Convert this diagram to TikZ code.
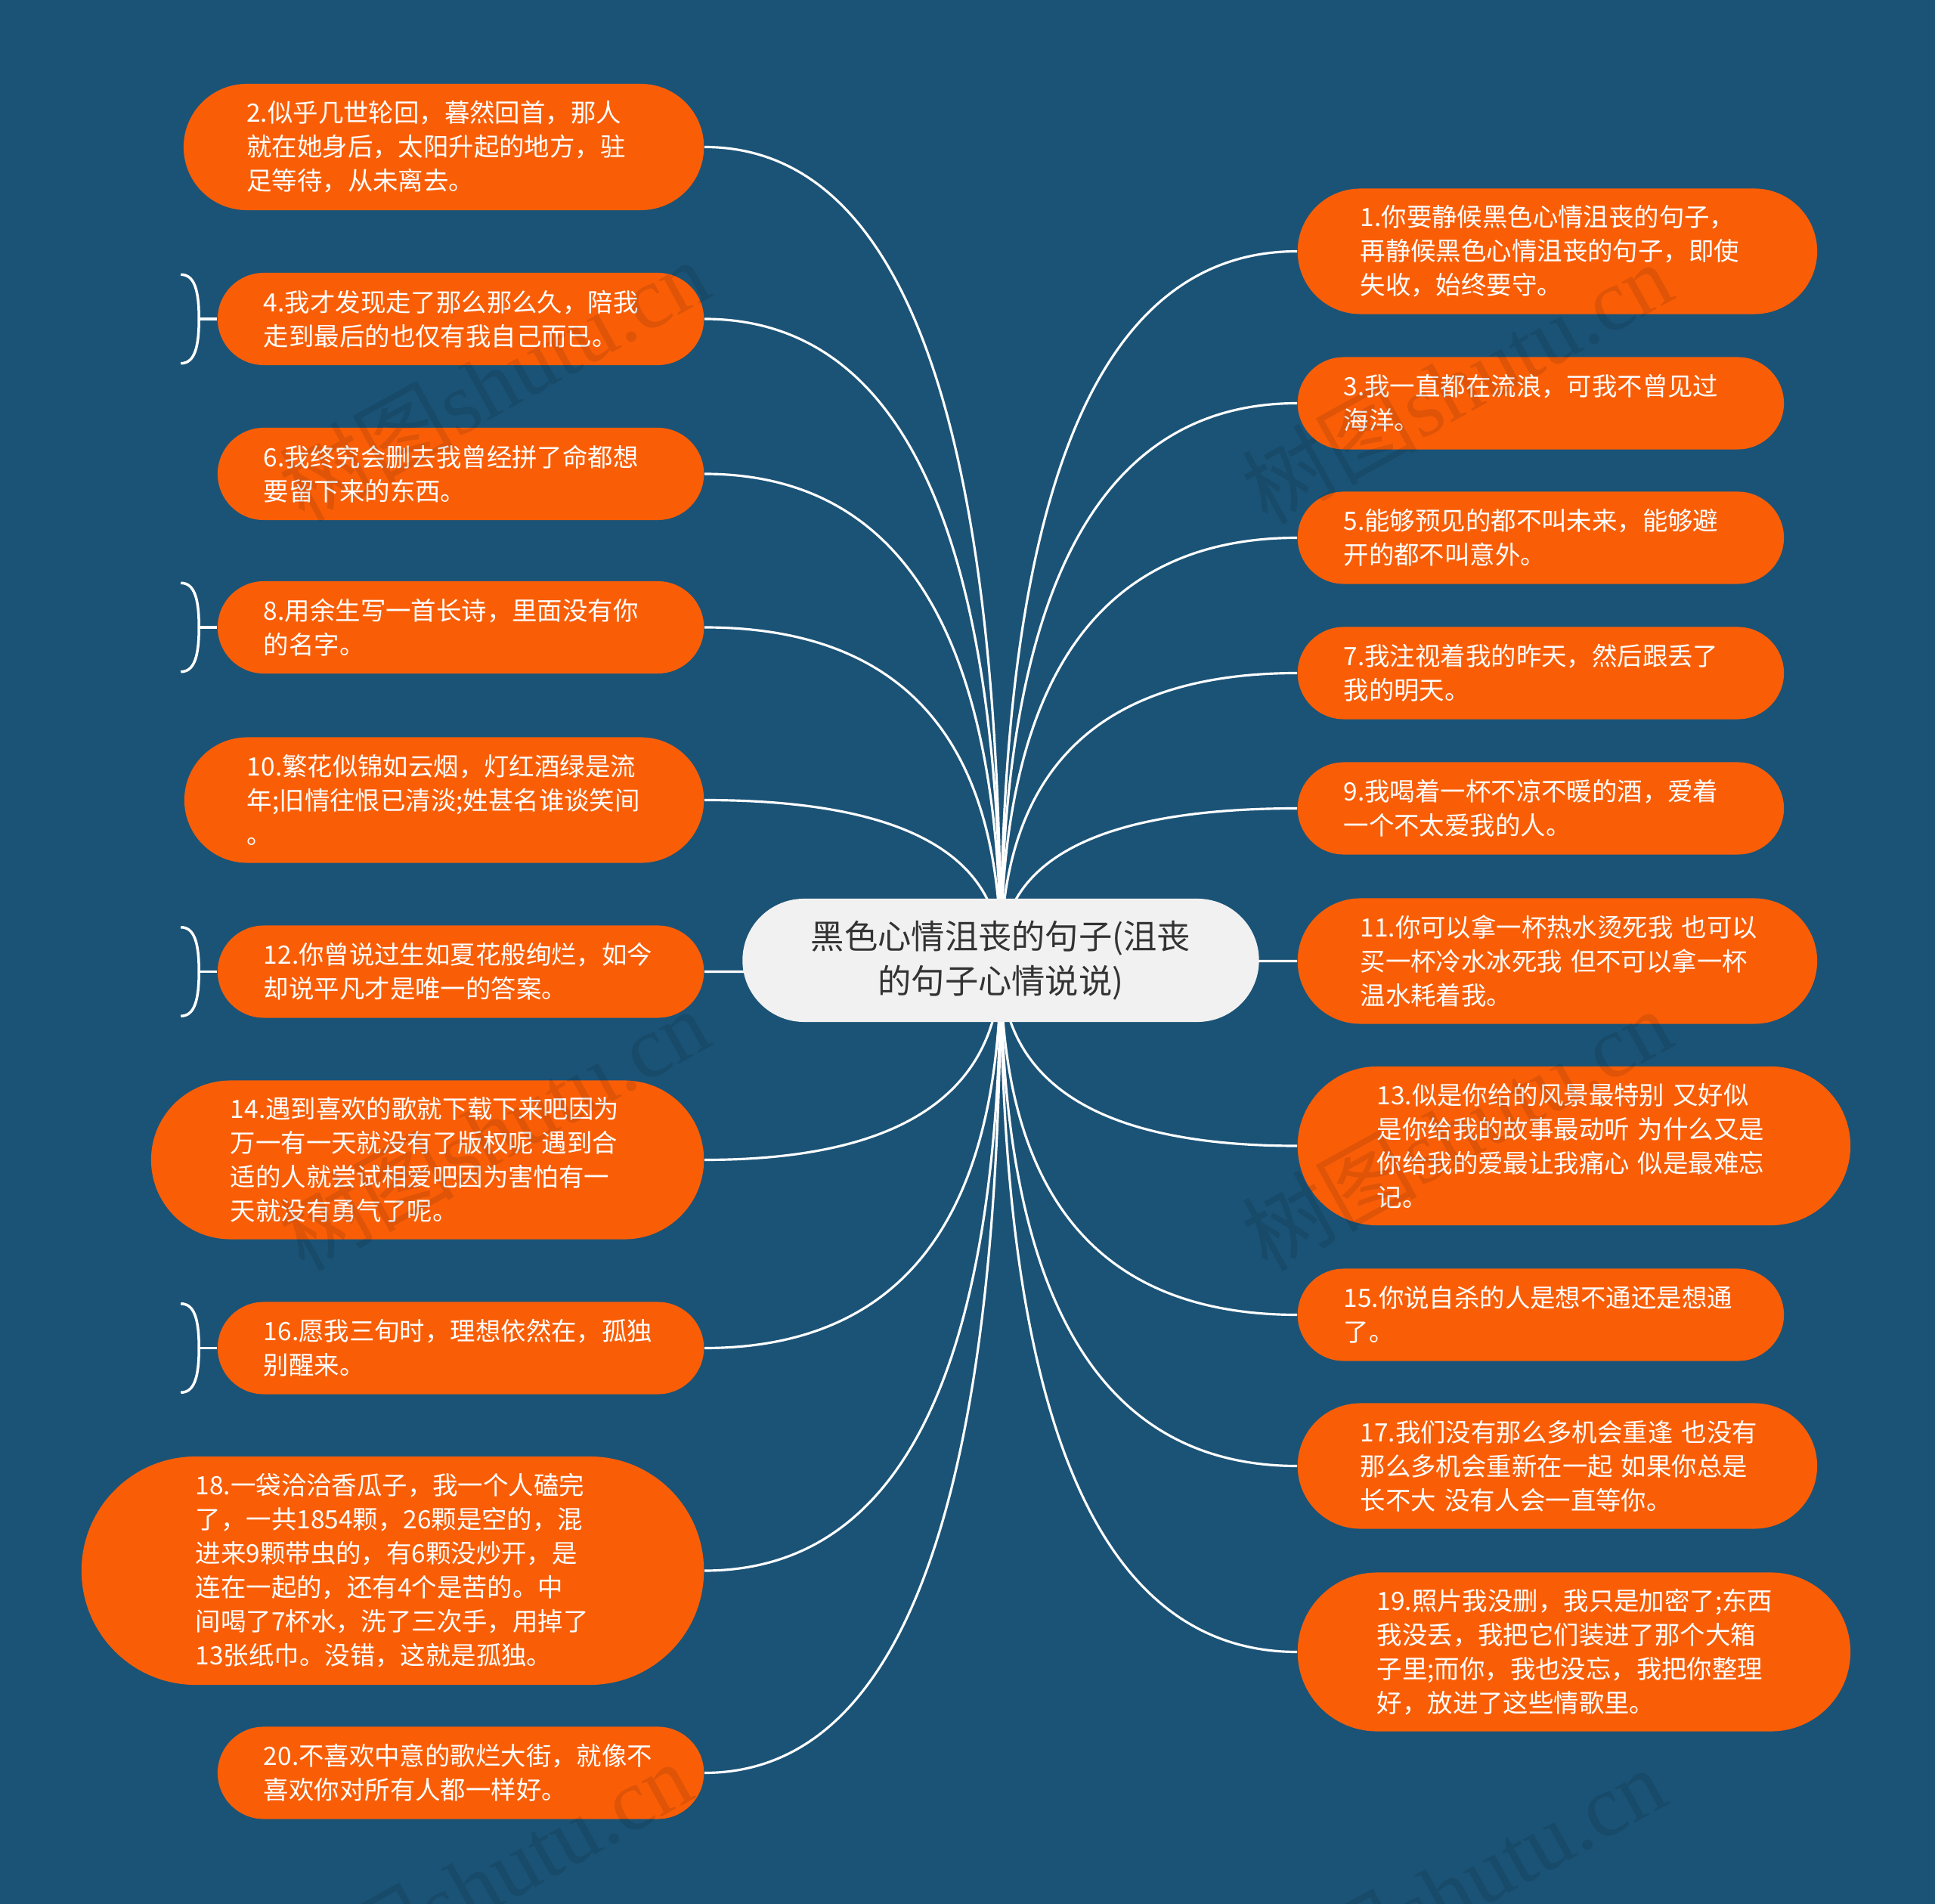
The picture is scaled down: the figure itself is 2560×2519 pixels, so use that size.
\documentclass[tikz,border=0pt]{standalone}
\usepackage{fontspec}
\setmainfont{Noto Sans CJK SC}
\newfontfamily\wmserif{Liberation Serif}
\usetikzlibrary{calc}

\definecolor{deepblue}{RGB}{27,83,118}
\definecolor{leaforange}{RGB}{249,94,7}
\definecolor{rootgray}{RGB}{241,241,241}
\definecolor{rootink}{RGB}{51,51,51}

\pgfdeclarelayer{edgelayer}
\pgfsetlayers{edgelayer,main}

\begin{document}
\begin{tikzpicture}[x=0.01cm, y=-0.01cm,
    pill/.style={minimum height=#1, inner xsep=#1/2, inner ysep=0pt, rounded corners=#1/2},
    leaf/.style={fill=leaforange, text=white, text width=5.21cm, align=left, font=\fontsize{9.5pt}{12.8pt}\selectfont},
    lnode/.style={leaf, anchor=east},
    rnode/.style={leaf, anchor=west},
    root/.style={fill=rootgray, text=rootink, text width=5.2cm, align=center, font=\fontsize{12.6pt}{16.7pt}\selectfont, pill=1.63cm},
    link/.style={draw=white, line width=0.9pt},
    fold/.style={draw=white, line width=1pt},
    wmark/.style={font=\fontsize{33pt}{33pt}\selectfont, text=black, text opacity=0.1, rotate=29, inner sep=0pt},
]
\useasboundingbox (0,0) rectangle (2560,2519);

% root
\node[root] (root) at (1324,1270.5) {黑色心情沮丧的句子(沮丧\\的句子心情说说)};

% left side
\node[lnode, pill=1.67cm] (l2) at (932,194.5) {2.似乎几世轮回，暮然回首，那人\\就在她身后，太阳升起的地方，驻\\足等待，从未离去。};
\node[lnode, pill=1.22cm] (l4) at (932,422) {4.我才发现走了那么那么久，陪我\\走到最后的也仅有我自己而已。};
\node[lnode, pill=1.22cm] (l6) at (932,627) {6.我终究会删去我曾经拼了命都想\\要留下来的东西。};
\node[lnode, pill=1.22cm] (l8) at (932,830) {8.用余生写一首长诗，里面没有你\\的名字。};
\node[lnode, pill=1.66cm] (l10) at (932,1058.5) {10.繁花似锦如云烟，灯红酒绿是流\\年;旧情往恨已清淡;姓甚名谁谈笑间\\。};
\node[lnode, pill=1.22cm] (l12) at (932,1285.5) {12.你曾说过生如夏花般绚烂，如今\\却说平凡才是唯一的答案。};
\node[lnode, pill=2.10cm] (l14) at (932,1534.5) {14.遇到喜欢的歌就下载下来吧因为\\万一有一天就没有了版权呢~遇到合\\适的人就尝试相爱吧因为害怕有一\\天就没有勇气了呢。};
\node[lnode, pill=1.22cm] (l16) at (932,1783.5) {16.愿我三旬时，理想依然在，孤独\\别醒来。};
\node[lnode, pill=3.02cm] (l18) at (932,2078) {18.一袋洽洽香瓜子，我一个人磕完\\了，一共1854颗，26颗是空的，混\\进来9颗带虫的，有6颗没炒开，是\\连在一起的，还有4个是苦的。中\\间喝了7杯水，洗了三次手，用掉了\\13张纸巾。没错，这就是孤独。};
\node[lnode, pill=1.22cm] (l20) at (932,2345.5) {20.不喜欢中意的歌烂大街，就像不\\喜欢你对所有人都一样好。};

% right side
\node[rnode, pill=1.66cm] (r1) at (1716,332.5) {1.你要静候黑色心情沮丧的句子，\\再静候黑色心情沮丧的句子，即使\\失收，始终要守。};
\node[rnode, pill=1.22cm] (r3) at (1716,533.5) {3.我一直都在流浪，可我不曾见过\\海洋。};
\node[rnode, pill=1.22cm] (r5) at (1716,711.5) {5.能够预见的都不叫未来，能够避\\开的都不叫意外。};
\node[rnode, pill=1.22cm] (r7) at (1716,890.5) {7.我注视着我的昨天，然后跟丢了\\我的明天。};
\node[rnode, pill=1.22cm] (r9) at (1716,1069.5) {9.我喝着一杯不凉不暖的酒，爱着\\一个不太爱我的人。};
\node[rnode, pill=1.66cm] (r11) at (1716,1271.5) {11.你可以拿一杯热水烫死我~也可以\\买一杯冷水冰死我~但不可以拿一杯\\温水耗着我。};
\node[rnode, pill=2.10cm] (r13) at (1716,1516) {13.似是你给的风景最特别~又好似\\是你给我的故事最动听~为什么又是\\你给我的爱最让我痛心~似是最难忘\\记。};
\node[rnode, pill=1.22cm] (r15) at (1716,1739.5) {15.你说自杀的人是想不通还是想通\\了。};
\node[rnode, pill=1.66cm] (r17) at (1716,1939.5) {17.我们没有那么多机会重逢~也没有\\那么多机会重新在一起~如果你总是\\长不大~没有人会一直等你。};
\node[rnode, pill=2.10cm] (r19) at (1716,2185.5) {19.照片我没删，我只是加密了;东西\\我没丢，我把它们装进了那个大箱\\子里;而你，我也没忘，我把你整理\\好，放进了这些情歌里。};

\begin{pgfonlayer}{edgelayer}
\fill[deepblue] (0,0) rectangle (2560,2519);
\foreach \n in {l2,l4,l6,l8,l10,l12,l14,l16,l18,l20}
  \draw[link] (\n.east) .. controls ($(\n.east)!.667!(root.center |- \n.east)$) and ($(root.center)!.667!(root.center |- \n.east)$) .. (root.center);
\foreach \n in {r1,r3,r5,r7,r9,r11,r13,r15,r17,r19}
  \draw[link] (\n.west) .. controls ($(\n.west)!.667!(root.center |- \n.west)$) and ($(root.center)!.667!(root.center |- \n.west)$) .. (root.center);
\end{pgfonlayer}

% fold marks
\foreach \n in {l4,l8,l12,l16}{
  \coordinate (\n fold) at ($(\n.west)+(-24,0)$);
  \draw[fold] ($(\n.north west)+(-48,3)$) .. controls +(18,0) and +(0,-38) .. (\n fold)
              .. controls +(0,38) and +(18,0) .. ($(\n.south west)+(-48,-3)$);
  \draw[fold] (\n fold) -- (\n.west);
}

% watermarks
\node[wmark] (wm1) at (653,503) {树图{\wmserif shutu.cn}};
\node[wmark] (wm2) at (1927,506) {树图{\wmserif shutu.cn}};
\node[wmark] (wm3) at (653,1494) {树图{\wmserif shutu.cn}};
\node[wmark] (wm4) at (1927,1494) {树图{\wmserif shutu.cn}};
\node[wmark] (wm5) at (630,2490) {树图{\wmserif shutu.cn}};
\node[wmark] (wm6) at (1918,2498) {树图{\wmserif shutu.cn}};
\end{tikzpicture}
\end{document}
